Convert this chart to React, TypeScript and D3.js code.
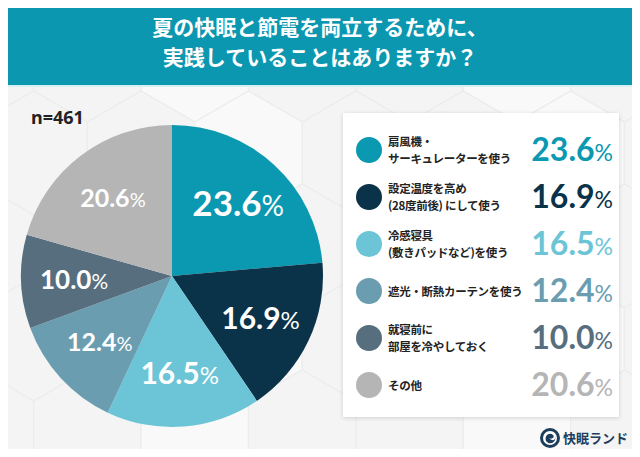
import React from "react";
import * as d3 from "d3";

const titleLines = ["夏の快眠と節電を両立するために、", "実践していることはありますか？"];
const sampleLabel = "n=461";
const categories = [
  ["扇風機・", "サーキュレーターを使う"],
  ["設定温度を高め", "(28度前後) にして使う"],
  ["冷感寝具", "(敷きパッドなど)を使う"],
  ["遮光・断熱カーテンを使う"],
  ["就寝前に", "部屋を冷やしておく"],
  ["その他"],
];
const values = [23.6, 16.9, 16.5, 12.4, 10.0, 20.6];
const colors = ["#0b98b1", "#0a3249", "#6cc5d6", "#6b9db1", "#566e7d", "#b5b5b5"];
const pieFontSizes = [35, 30, 30, 25, 26, 25];

const W = 640;
const H = 457;

const App = () => {
  const cx = 172;
  const cy = 276;
  const r = 151;

  const pie = d3.pie<number>().sort(null).value((d) => d);
  const arcs = pie(values);
  const arc = d3.arc<d3.PieArcDatum<number>>().innerRadius(0).outerRadius(r);
  const labelArc = d3.arc<d3.PieArcDatum<number>>().innerRadius(98).outerRadius(98);

  // legend rows
  const rowY = d3.scaleLinear().domain([0, categories.length - 1]).range([150, 385]);

  // hexagon background grid
  const hexR = 62;
  const hexW = Math.sqrt(3) * hexR;
  const hexes: [number, number][] = [];
  for (let row = -1; row < 7; row++) {
    for (let col = -1; col < 8; col++) {
      const x = col * hexW + (row % 2 ? hexW / 2 : 0) - 20;
      const y = row * hexR * 1.5 + 60;
      hexes.push([x, y]);
    }
  }
  const hexPath = (x: number, y: number) =>
    d3.range(6).map((i) => {
      const a = (Math.PI / 3) * i + Math.PI / 6;
      return [x + hexR * Math.cos(a), y + hexR * Math.sin(a)];
    });

  return (
    <svg width={W} height={H} style={{ display: "block", margin: "-8px" }}>
      <defs>
        <filter id="shadow" x="-10%" y="-10%" width="120%" height="120%">
          <feDropShadow dx="0" dy="1" stdDeviation="2" floodColor="#000" floodOpacity="0.15" />
        </filter>
      </defs>
      <rect width={W} height={H} fill="#f5f5f5" />
      {hexes.map(([x, y], i) => (
        <polygon
          key={i}
          points={hexPath(x, y).map((p) => p.join(",")).join(" ")}
          fill={i % 3 === 0 ? "#f9f9f9" : "#f4f4f4"}
          stroke="#ececec"
          strokeWidth={1.2}
        />
      ))}

      {/* title band */}
      <rect width={W} height={85} fill="#0b97b0" />
      <rect y={85} width={W} height={2} fill="#d8eef2" />
      {titleLines.map((t, i) => (
        <text
          key={i}
          x={W / 2}
          y={35 + i * 30}
          textAnchor="middle"
          fill="#fff"
          fontFamily="'Noto Sans CJK JP', sans-serif"
          fontWeight={700}
          fontSize={21}
        >
          {t}
        </text>
      ))}

      <text x={31} y={124} fontFamily="'Noto Sans', sans-serif" fontWeight={700} fontSize={18} fill="#222">
        {sampleLabel}
      </text>

      {/* pie */}
      <g transform={`translate(${cx},${cy})`}>
        {arcs.map((d, i) => (
          <path key={i} d={arc(d) || ""} fill={colors[i]} />
        ))}
        {arcs.map((d, i) => {
          const [lx, ly] = labelArc.centroid(d);
          const fs = pieFontSizes[i];
          return (
            <text
              key={i}
              x={lx}
              y={ly}
              dy="0.36em"
              textAnchor="middle"
              fill="#fff"
              fontFamily="Lato, sans-serif"
              fontWeight={700}
              fontSize={fs}
            >
              {values[i].toFixed(1)}
              <tspan fontWeight={400} fontSize={fs * 0.8}>%</tspan>
            </text>
          );
        })}
      </g>

      {/* legend */}
      <rect x={343} y={113} width={276} height={304} fill="#fff" filter="url(#shadow)" />
      {categories.map((lines, i) => {
        const y = rowY(i);
        return (
          <g key={i}>
            <circle cx={369} cy={y} r={13} fill={colors[i]} />
            {lines.map((l, j) => (
              <text
                key={j}
                x={388}
                y={y + 4.5 + (j - (lines.length - 1) / 2) * 16.5}
                fontFamily="'Noto Sans CJK JP', sans-serif"
                fontWeight={700}
                fontSize={11.5}
                letterSpacing={-0.3}
                fill="#222"
              >
                {l}
              </text>
            ))}
            <text
              x={613}
              y={y + 11}
              textAnchor="end"
              fill={colors[i]}
              fontFamily="Lato, sans-serif"
              fontWeight={700}
              fontSize={32}
            >
              {values[i].toFixed(1)}
              <tspan fontWeight={400} fontSize={23}>%</tspan>
            </text>
          </g>
        );
      })}

      {/* logo */}
      <g transform="translate(550,438)">
        <circle r={10} fill="#1d3d5c" />
        <circle r={7} fill="#fff" />
        <path d="M-4,3 C-6,-3 0,-6 3,-3 C5,-1 2,2 -1,0 C3,4 6,2 5,-2 C7,4 0,8 -4,3 Z" fill="#1d3d5c" />
      </g>
      <text x={563} y={443} fontFamily="'Noto Sans CJK JP', sans-serif" fontWeight={700} fontSize={13} fill="#1d3d5c">
        快眠ランド
      </text>
    </svg>
  );
};

export default App;
